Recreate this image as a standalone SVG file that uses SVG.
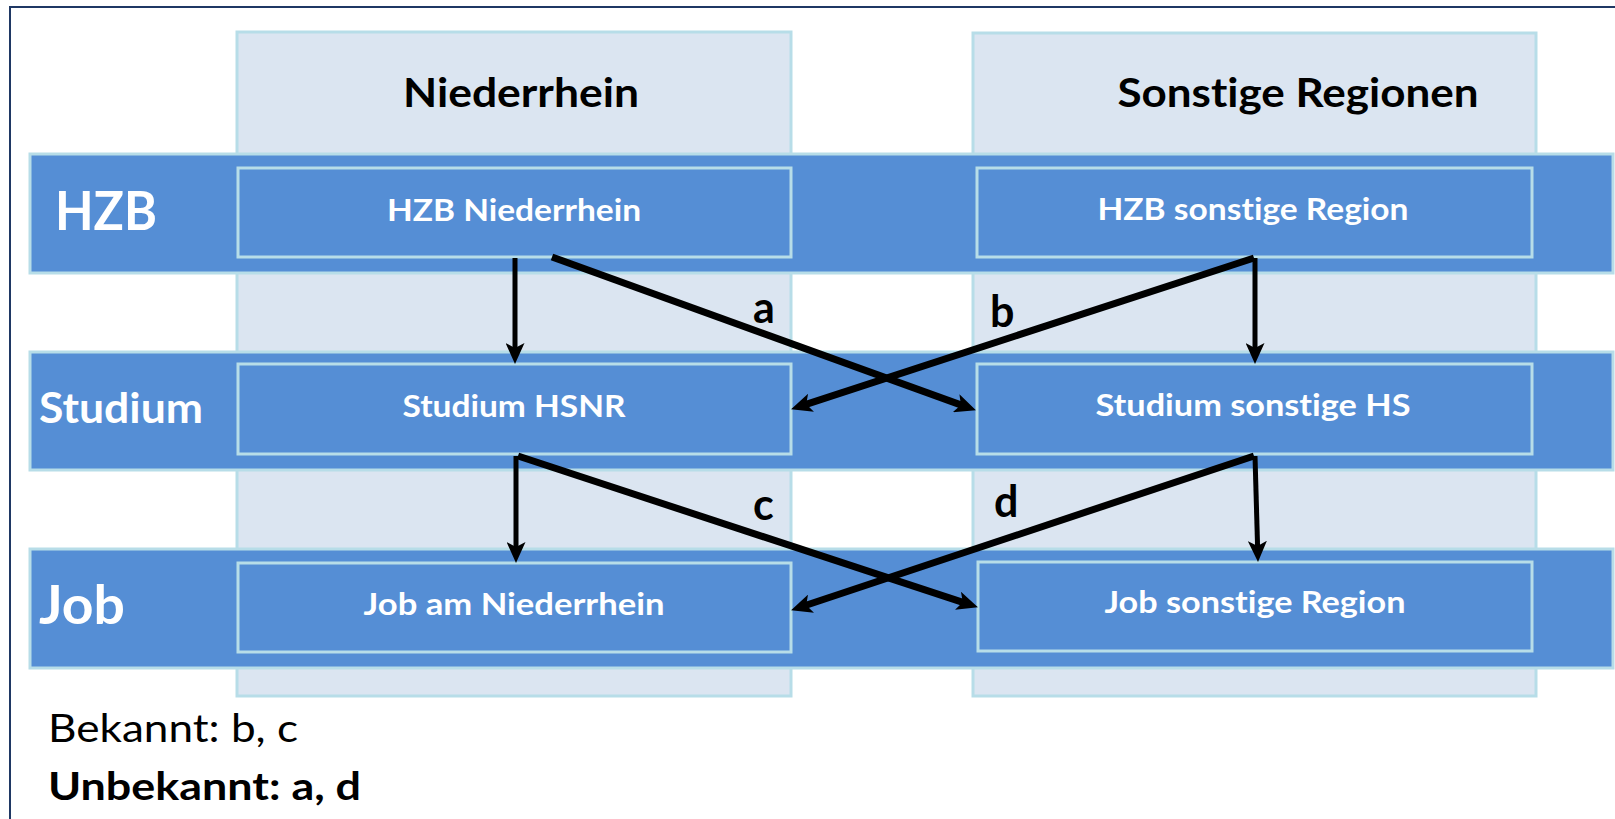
<svg xmlns="http://www.w3.org/2000/svg" width="1615" height="819" viewBox="0 0 1615 819">
  <style>
    text { font-variant-ligatures: none; }
    .col { fill: #DBE5F1; stroke: #B7DDE8; stroke-width: 3; }
    .band { fill: #558ED5; stroke: #B7DDE8; stroke-width: 3; }
    .box { fill: #558ED5; stroke: #B7DDE8; stroke-width: 3; }
    .hdr { font-family: Lato, "Open Sans", sans-serif; font-weight: bold; font-size: 40px; fill: #000; text-anchor: middle; }
    .row { font-family: Lato, "Open Sans", sans-serif; font-weight: bold; fill: #fff; }
    .bt { font-family: Lato, "Open Sans", sans-serif; font-weight: bold; font-size: 31px; fill: #fff; text-anchor: middle; }
    .lbl { font-family: Lato, "Open Sans", sans-serif; font-weight: bold; font-size: 43px; fill: #000; }
    .note { font-family: Lato, "Open Sans", sans-serif; font-size: 39px; fill: #000; }
    .v { stroke: #000; stroke-width: 5; fill: none; marker-end: url(#ah); }
    .d { stroke: #000; stroke-width: 7; fill: none; marker-end: url(#ah); }
  </style>
  <defs>
    <marker id="ah" markerUnits="userSpaceOnUse" markerWidth="21" markerHeight="19" refX="10" refY="9.5" orient="auto" viewBox="0 0 21 19">
      <path d="M0,0 L21,9.5 L0,19 L5,9.5 z" fill="#000"/>
    </marker>
  </defs>
  <rect x="0" y="0" width="1615" height="819" fill="#fff"/>
  <rect id="frame" x="10" y="7" width="1700" height="900" fill="none" stroke="#1F3864" stroke-width="2"/>

  <g id="col-niederrhein">
    <rect class="col" x="237" y="32" width="554" height="664"/>
    <text class="hdr" x="521" y="107" textLength="236" lengthAdjust="spacingAndGlyphs">Niederrhein</text>
  </g>
  <g id="col-sonstige">
    <rect class="col" x="973" y="33" width="563" height="663"/>
    <text class="hdr" x="1298" y="107" textLength="361" lengthAdjust="spacingAndGlyphs">Sonstige Regionen</text>
  </g>

  <g id="band-hzb">
    <rect class="band" x="30" y="154" width="1583" height="119"/>
    <text class="row" x="55" y="230" font-size="54" textLength="102" lengthAdjust="spacingAndGlyphs">HZB</text>
  </g>
  <g id="band-studium">
    <rect class="band" x="30" y="352" width="1583" height="118"/>
    <text class="row" x="39" y="423" font-size="42" textLength="164" lengthAdjust="spacingAndGlyphs">Studium</text>
  </g>
  <g id="band-job">
    <rect class="band" x="30" y="549" width="1583" height="119"/>
    <text class="row" x="39" y="624" font-size="54" textLength="86" lengthAdjust="spacingAndGlyphs">Job</text>
  </g>

  <g id="hzb-niederrhein">
    <rect class="box" x="238" y="168" width="553" height="89"/>
    <text class="bt" x="514" y="221" textLength="254" lengthAdjust="spacingAndGlyphs">HZB Niederrhein</text>
  </g>
  <g id="hzb-sonstige">
    <rect class="box" x="977" y="168" width="555" height="89"/>
    <text class="bt" x="1253" y="220" textLength="311" lengthAdjust="spacingAndGlyphs">HZB sonstige Region</text>
  </g>
  <g id="studium-hsnr">
    <rect class="box" x="238" y="364" width="553" height="90"/>
    <text class="bt" x="514" y="417" textLength="223" lengthAdjust="spacingAndGlyphs">Studium HSNR</text>
  </g>
  <g id="studium-sonstige">
    <rect class="box" x="977" y="364" width="555" height="90"/>
    <text class="bt" x="1253" y="416" textLength="315" lengthAdjust="spacingAndGlyphs">Studium sonstige HS</text>
  </g>
  <g id="job-niederrhein">
    <rect class="box" x="238" y="563" width="553" height="89"/>
    <text class="bt" x="514" y="615" textLength="301" lengthAdjust="spacingAndGlyphs">Job am Niederrhein</text>
  </g>
  <g id="job-sonstige">
    <rect class="box" x="978" y="562" width="554" height="89"/>
    <text class="bt" x="1255" y="613" textLength="301" lengthAdjust="spacingAndGlyphs">Job sonstige Region</text>
  </g>

  <g id="connectors">
    <line class="v" x1="515" y1="258" x2="515" y2="353"/>
    <line class="d" x1="552" y1="257" x2="965.6" y2="406.6"/>
    <line class="d" x1="1254" y1="258" x2="801.5" y2="405.9"/>
    <line class="v" x1="1255" y1="258" x2="1255" y2="353"/>
    <line class="v" x1="516" y1="456" x2="516" y2="552"/>
    <line class="d" x1="518" y1="456" x2="967.5" y2="603.9"/>
    <line class="d" x1="1254" y1="456" x2="801.5" y2="606.8"/>
    <line class="v" x1="1255" y1="456" x2="1257.7" y2="551"/>
    <text class="lbl" x="753" y="323">a</text>
    <text class="lbl" x="990" y="327">b</text>
    <text class="lbl" x="753" y="520">c</text>
    <text class="lbl" x="994" y="517">d</text>
  </g>

  <g id="legend">
    <text class="note" x="48" y="742" textLength="250" lengthAdjust="spacingAndGlyphs">Bekannt: b, c</text>
    <text class="note" x="48" y="800" font-weight="bold" textLength="313" lengthAdjust="spacingAndGlyphs">Unbekannt: a, d</text>
  </g>
</svg>
